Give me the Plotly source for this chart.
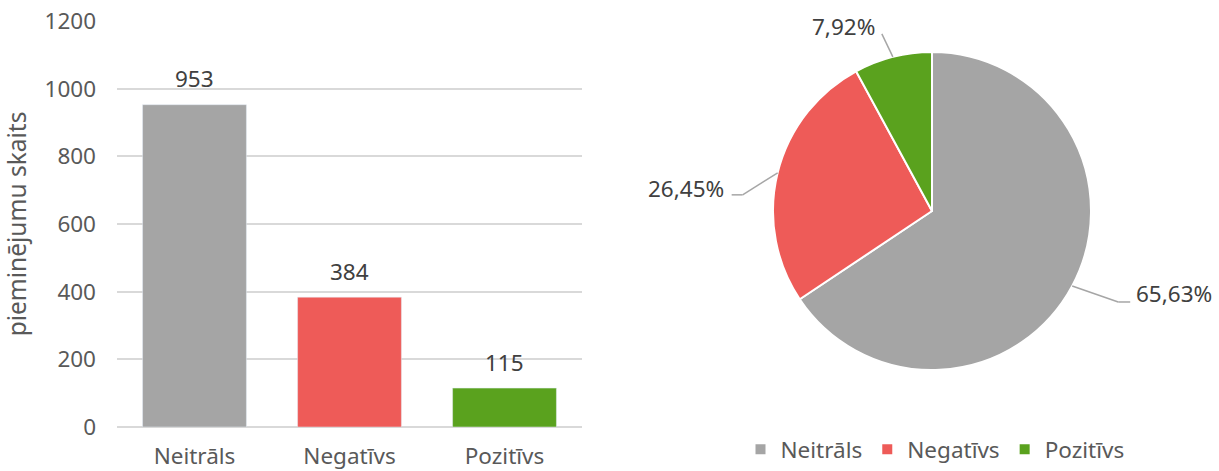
import math
import plotly.graph_objects as go

# ---- data ----
categories = ["Neitrāls", "Negatīvs", "Pozitīvs"]
counts = [953, 384, 115]
pie_labels = ["65,63%", "26,45%", "7,92%"]
y_ticks = [0, 200, 400, 600, 800, 1000, 1200]
y_title = "pieminējumu skaits"

# ---- style ----
colors = ["#A5A5A5", "#EE5B58", "#5AA21E"]
FONT = "Noto Sans"
FS = 22.5
W, H = 1219, 471
# plot area in window pixels
X0, X1, Y0, Y1 = 117, 582, 21, 427
ML, MT, MB = X0, Y0, H - Y1
PW = W - ML
PH = Y1 - Y0


def px(x):
    return (x - X0) / PW


def py(y):
    return (Y1 - y) / PH


# pie geometry (window pixels)
CX, CY, R = 932, 211, 159
# label leader geometry per slice: (elbow dx, elbow dy, horizontal run, text gap, text dy)
leader = [
    (46, 16, 12, 4, -8),     # Neitrāls -> right
    (-35, 22, -11, -6, -6),  # Negatīvs -> left
    (-11, -23, 0, -5, -7),   # Pozitīvs -> up-left
]

fig = go.Figure()

fig.add_trace(go.Bar(
    x=categories, y=counts, marker_color=colors, width=0.67,
    showlegend=False, xaxis="x", yaxis="y", hoverinfo="x+y",
))

fig.add_trace(go.Pie(
    labels=categories, values=counts, sort=False, direction="clockwise",
    rotation=0, marker=dict(colors=colors, line=dict(color="white", width=2)),
    textinfo="none", domain=dict(x=[px(CX - R), px(CX + R)], y=[py(CY + R), py(CY - R)]),
    showlegend=True,
))

# bar value labels
for c, v in zip(categories, counts):
    fig.add_annotation(x=c, y=v, xref="x", yref="y", text=str(v), showarrow=False,
                       yanchor="middle", yshift=26,
                       font=dict(family=FONT, size=FS, color="#404040"))

# pie labels with leader lines
total = sum(counts)
start = 0.0
for i, (v, lab) in enumerate(zip(counts, pie_labels)):
    frac = v / total
    mid = (start + frac / 2) * 2 * math.pi
    start += frac
    ex, ey = CX + R * math.sin(mid), CY - R * math.cos(mid)
    dx, dy, run, gap, tdy = leader[i]
    bx, by = ex + dx, ey + dy
    cx2, cy2 = bx + run, by
    for (x0, y0, x1, y1) in [(ex, ey, bx, by), (bx, by, cx2, cy2)]:
        if (x0, y0) != (x1, y1):
            fig.add_shape(type="line", xref="paper", yref="paper",
                          x0=px(x0), y0=py(y0), x1=px(x1), y1=py(y1),
                          line=dict(color="#A6A6A6", width=1.5))
    anchor = "left" if gap > 0 else "right"
    fig.add_annotation(x=px(cx2 + gap), y=py(cy2 + tdy), xref="paper", yref="paper",
                       text=lab, showarrow=False, xanchor=anchor, yanchor="middle",
                       font=dict(family=FONT, size=FS, color="#404040"))

fig.update_layout(
    width=W, height=H,
    margin=dict(l=ML, r=0, t=MT, b=MB, pad=0),
    paper_bgcolor="white", plot_bgcolor="white",
    font=dict(family=FONT, size=FS, color="#595959"),
    xaxis=dict(domain=[0, px(X1)], showgrid=False, showline=False, ticks="",
               tickfont=dict(size=FS, color="#595959"), ticklabelstandoff=13),
    yaxis=dict(domain=[0, 1], range=[0, 1200.5], tickvals=y_ticks, showgrid=True,
               gridcolor="#D9D9D9", gridwidth=1.5, zeroline=True, zerolinecolor="#D9D9D9",
               zerolinewidth=1.5, showline=False, ticks="", ticklabelstandoff=20,
               tickfont=dict(size=FS, color="#595959"),
               title=dict(text=y_title, font=dict(size=24.5, color="#595959"), standoff=14)),
    legend=dict(orientation="h", x=px(935), xanchor="center", y=py(450), yanchor="middle",
                font=dict(size=FS, color="#595959"), itemwidth=30),
)

fig.write_html("out.html", config={"displayModeBar": False},
               post_script="document.body.style.margin='0px';document.body.style.overflow='hidden';")
